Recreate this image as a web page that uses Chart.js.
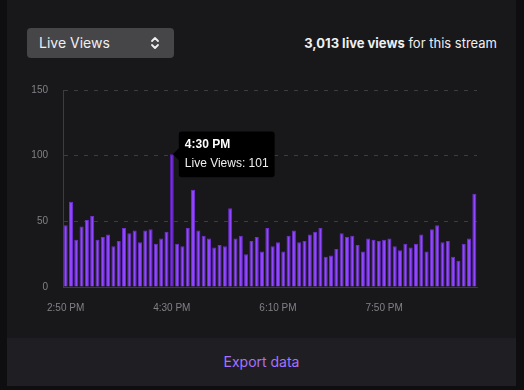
<!DOCTYPE html>
<html>
<head>
<meta charset="utf-8">
<script src="https://cdn.jsdelivr.net/npm/chart.js@4/dist/chart.umd.min.js"></script>
<style>
  html, body { margin: 0; padding: 0; background: #0e0e10; width: 524px; height: 390px; overflow: hidden; font-family: Inter, "Noto Sans", sans-serif; }
  .card { position: absolute; left: 7px; top: 0; width: 509px; height: 386px; background: #18181b; }
  .select { position: absolute; left: 20px; top: 28px; width: 147px; height: 30px; background: #464649; border-radius: 4px; color: #efeff1; font-size: 14px; line-height: 30px; box-sizing: border-box; padding-left: 12px; }
  .select svg { position: absolute; right: 14px; top: 8px; }
  .summary { position: absolute; right: 19px; top: 35px; color: #efeff1; font-size: 13px; }
  .summary b { font-weight: 700; }
  .chartbox { position: absolute; left: 13px; top: 69px; width: 480px; height: 252px; }
  .footer { position: absolute; left: 0; top: 338px; width: 509px; height: 48px; background: #1f1f23; color: #a970ff; font-size: 14px; text-align: center; line-height: 48px; }
</style>
</head>
<body>
<div class="card">
  <div class="select">Live Views
    <svg width="10" height="14" viewBox="0 0 10 14"><path d="M2 5 L5 2 L8 5 M2 9 L5 12 L8 9" stroke="#efeff1" stroke-width="1.8" fill="none" stroke-linecap="round" stroke-linejoin="round"/></svg>
  </div>
  <div class="summary"><b>3,013 live views</b> for this stream</div>
  <div class="chartbox"><canvas id="views"></canvas></div>
  <div class="footer">Export data</div>
</div>
<script>
// 5-minute buckets of the stream
const times = [
  "2:50 PM","2:55 PM",
  "3:00 PM","3:05 PM","3:10 PM","3:15 PM","3:20 PM","3:25 PM","3:30 PM","3:35 PM","3:40 PM","3:45 PM","3:50 PM","3:55 PM",
  "4:00 PM","4:05 PM","4:10 PM","4:15 PM","4:20 PM","4:25 PM","4:30 PM","4:35 PM","4:40 PM","4:45 PM","4:50 PM","4:55 PM",
  "5:00 PM","5:05 PM","5:10 PM","5:15 PM","5:20 PM","5:25 PM","5:30 PM","5:35 PM","5:40 PM","5:45 PM","5:50 PM","5:55 PM",
  "6:00 PM","6:05 PM","6:10 PM","6:15 PM","6:20 PM","6:25 PM","6:30 PM","6:35 PM","6:40 PM","6:45 PM","6:50 PM","6:55 PM",
  "7:00 PM","7:05 PM","7:10 PM","7:15 PM","7:20 PM","7:25 PM","7:30 PM","7:35 PM","7:40 PM","7:45 PM","7:50 PM","7:55 PM",
  "8:00 PM","8:05 PM","8:10 PM","8:15 PM","8:20 PM","8:25 PM","8:30 PM","8:35 PM","8:40 PM","8:45 PM","8:50 PM","8:55 PM",
  "9:00 PM","9:05 PM","9:10 PM","9:15 PM"
];
const liveViews = [
  47,65,36,46,51,54,36,38,40,31, 35,45,41,43,34,43,44,33,37,42,
  101,33,31,45,74,43,39,37,30,32, 31,60,37,39,25,35,38,27,45,31,
  34,27,39,43,34,35,40,42,45,23, 24,29,41,38,39,32,27,37,36,35,
  36,37,31,28,33,30,33,40,27,44, 47,34,35,23,20,33,37,71
];
const xTickLabels = ["2:50 PM", "4:30 PM", "6:10 PM", "7:50 PM"];
const yTicks = [0, 50, 100, 150];
const hoverIndex = 20;

const tickFont = { family: 'Liberation Sans', size: 10 };

const chart = new Chart(document.getElementById('views'), {
  type: 'bar',
  data: {
    labels: times,
    datasets: [{
      label: 'Live Views',
      data: liveViews,
      backgroundColor: '#9147ff',
      borderColor: '#6f2fd0',
      borderWidth: 1,
      hoverBackgroundColor: '#772ce8',
      hoverBorderColor: '#5c1fb8',
      categoryPercentage: 1,
      barPercentage: 0.76
    }]
  },
  options: {
    responsive: true,
    maintainAspectRatio: false,
    animation: false,
    layout: { padding: { top: 3, right: 23, bottom: 0, left: 0 } },
    plugins: {
      legend: { display: false },
      tooltip: {
        backgroundColor: '#000',
        titleColor: '#fff',
        bodyColor: '#efeff1',
        titleFont: { family: 'Liberation Sans', size: 12, weight: 'bold' },
        bodyFont: { family: 'Liberation Sans', size: 12 },
        titleMarginBottom: 5,
        padding: { x: 6, y: 6 },
        cornerRadius: 3,
        caretSize: 6,
        caretPadding: 1,
        xAlign: 'left',
        displayColors: false
      }
    },
    scales: {
      x: {
        grid: { display: false },
        border: { display: true, color: '#3d3d41', width: 1 },
        ticks: {
          color: '#808086',
          font: tickFont,
          autoSkip: false,
          maxRotation: 0,
          padding: 7,
          callback: function (v, i) {
            const t = times[i];
            return xTickLabels.includes(t) ? t : null;
          }
        }
      },
      y: {
        min: 0,
        max: 150,
        afterBuildTicks: function (s) { s.ticks = yTicks.map(v => ({ value: v })); },
        afterFit: function (s) { s.width = 43; },
        grid: { color: '#3d3d41', drawTicks: false },
        border: { display: true, color: '#3d3d41', dash: [4, 6] },
        ticks: {
          color: '#808086',
          font: tickFont,
          padding: 15
        }
      }
    }
  }
});

const meta = chart.getDatasetMeta(0).data[hoverIndex];
chart.setActiveElements([{ datasetIndex: 0, index: hoverIndex }]);
chart.tooltip.setActiveElements([{ datasetIndex: 0, index: hoverIndex }], { x: meta.x, y: meta.y });
chart.update();
</script>
</body>
</html>
